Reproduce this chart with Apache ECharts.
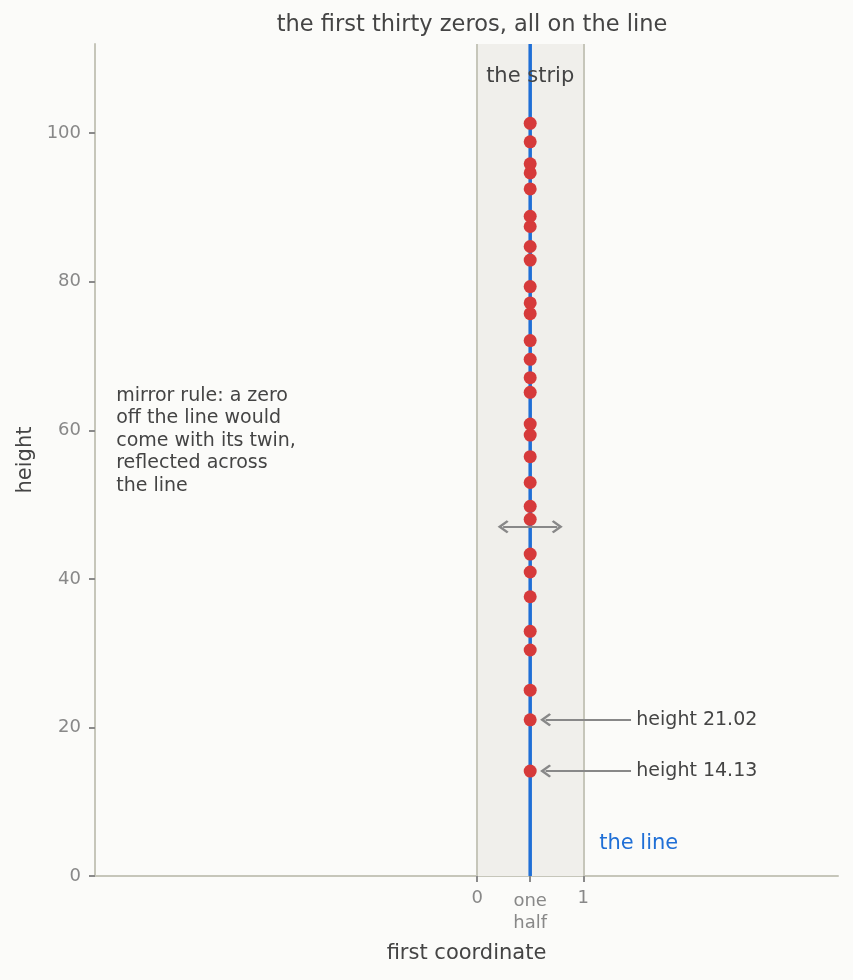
<!DOCTYPE html>
<html><head><meta charset="utf-8">
<script src="https://cdn.jsdelivr.net/npm/echarts@6/dist/echarts.min.js"></script>
<style>html,body{margin:0;padding:0;background:#fbfbf9}#c{width:853px;height:980px}</style>
</head><body><div id="c"></div>
<script>
// heights of the first thirty zeros (all at first coordinate one half)
const zeroHeights = [14.13, 21.02, 25.01, 30.42, 32.94, 37.59, 40.92, 43.33, 48.01, 49.77,
  52.97, 56.45, 59.35, 60.83, 65.11, 67.08, 69.55, 72.07, 75.70, 77.14,
  79.34, 82.91, 84.74, 87.43, 88.81, 92.49, 94.65, 95.87, 98.83, 101.32];
const criticalX = 0.5;
const stripEdges = [0, 1];
const xRange = [-3.6, 3.4];
const yRange = [0, 112];
const yTicks = [0, 20, 40, 60, 80, 100];
const xTickValues = [0, 0.5, 1];
const xTickLabels = ['0', 'one\nhalf', '1'];
const calloutHeights = [21.02, 14.13];
const calloutLabels = ['height 21.02', 'height 14.13'];
const calloutTextX = 1.5;
const calloutTipX = 0.645;
const mirrorArrow = {from: 0.245, to: 0.755, y: 47};
const mirrorText = 'mirror rule: a zero\noff the line would\ncome with its twin,\nreflected across\nthe line';
const mirrorTextPos = [-3.4, 58.6];
const stripLabelPos = [0.5, 107.6];
const lineLabelPos = [1.15, 4.4];

const FONT = '"DejaVu Sans", sans-serif';
const CHEVRON = 'path://M0,0L6,7L4.6,8.4L0,3.2L-4.6,8.4L-6,7Z';
const chart = echarts.init(document.getElementById('c'));
const textSeries = (pos, text, color, align, size, lh) => ({
  type: 'scatter', data: [pos], symbolSize: 0, silent: true, z: 10,
  itemStyle: {opacity: 1},
  label: {show: true, position: 'inside', formatter: text, color: color, fontFamily: FONT,
    fontSize: size, align: align, verticalAlign: 'middle', lineHeight: lh}
});
const tickText = {fontFamily: FONT, fontSize: 18, color: '#888'};
chart.setOption({
  backgroundColor: '#fbfbf9',
  animation: false,
  textStyle: {fontFamily: FONT},
  title: {text: 'the first thirty zeros, all on the line', left: 467, top: 9, textAlign: 'center',
    textStyle: {fontFamily: FONT, fontSize: 22.5, fontWeight: 'normal', color: '#444'}},
  grid: {left: 95, right: 15, top: 44, bottom: 104},
  xAxis: {type: 'value', min: xRange[0], max: xRange[1],
    name: 'first coordinate', nameLocation: 'middle', nameGap: 67,
    nameTextStyle: {fontFamily: FONT, fontSize: 21, color: '#444'},
    axisLine: {onZero: false, lineStyle: {color: '#c6c6ba', width: 2}},
    axisTick: {show: true, customValues: xTickValues, length: 6, lineStyle: {color: '#8a8a8a', width: 2}},
    axisLabel: {customValues: xTickValues,
      formatter: v => {
        const lines = xTickLabels[xTickValues.indexOf(v)].split('\n');
        return lines.length > 1 ? '{a|' + lines[0] + '}\n{b|' + lines[1] + '}' : '{n|' + lines[0] + '}';
      },
      rich: {n: Object.assign({lineHeight: 22}, tickText),
             a: Object.assign({lineHeight: 28}, tickText),
             b: Object.assign({lineHeight: 16}, tickText)},
      fontFamily: FONT, fontSize: 18, color: '#888', margin: 11, verticalAlign: 'top'},
    splitLine: {show: false}},
  yAxis: {type: 'value', min: yRange[0], max: yRange[1], interval: 20,
    name: 'height', nameLocation: 'middle', nameGap: 59, nameRotate: 90,
    nameTextStyle: {fontFamily: FONT, fontSize: 21, color: '#444'},
    axisLine: {show: true, onZero: false, lineStyle: {color: '#c6c6ba', width: 2}},
    axisTick: {show: true, customValues: yTicks, length: 6, lineStyle: {color: '#8a8a8a', width: 2}},
    axisLabel: {customValues: yTicks, fontFamily: FONT, fontSize: 18, color: '#888', margin: 14},
    splitLine: {show: false}},
  series: [
    {type: 'line', data: [], silent: true,
      markArea: {silent: true, itemStyle: {color: '#f0efeb'},
        data: [[{coord: [stripEdges[0], yRange[0]]}, {coord: [stripEdges[1], yRange[1]]}]]},
      markLine: {silent: true, symbol: 'none', label: {show: false},
        lineStyle: {color: '#c6c6ba', width: 2, type: 'solid'},
        data: stripEdges.map(v => ({xAxis: v}))}},
    {type: 'line', data: [[criticalX, yRange[0]], [criticalX, yRange[1]]], symbol: 'none', silent: true,
      lineStyle: {color: '#1f6fd6', width: 3.5}, z: 3},
    {type: 'line', data: [], silent: true, z: 4,
      markLine: {silent: true, symbol: ['none', CHEVRON], symbolSize: [13, 11], label: {show: false},
        lineStyle: {color: '#888', width: 2, type: 'solid'},
        data: calloutHeights.map(h => [{coord: [calloutTextX - 0.05, h]}, {coord: [calloutTipX, h]}])
          .concat([[{coord: [mirrorArrow.from, mirrorArrow.y], symbol: CHEVRON}, {coord: [mirrorArrow.to, mirrorArrow.y]}]])}},
    {type: 'scatter', data: zeroHeights.map(h => [criticalX, h]), symbol: 'circle', symbolSize: 13,
      itemStyle: {color: '#d63a3a', opacity: 1}, z: 5, silent: true},
    textSeries(stripLabelPos, 'the strip', '#444', 'center', 21, 24),
    textSeries(lineLabelPos, 'the line', '#1f6fd6', 'left', 21, 24),
    textSeries(mirrorTextPos, mirrorText, '#444', 'left', 19, 22.5),
    ...calloutHeights.map((h, i) => textSeries([calloutTextX, h], calloutLabels[i], '#444', 'left', 19, 22))
  ]
});
</script></body></html>
